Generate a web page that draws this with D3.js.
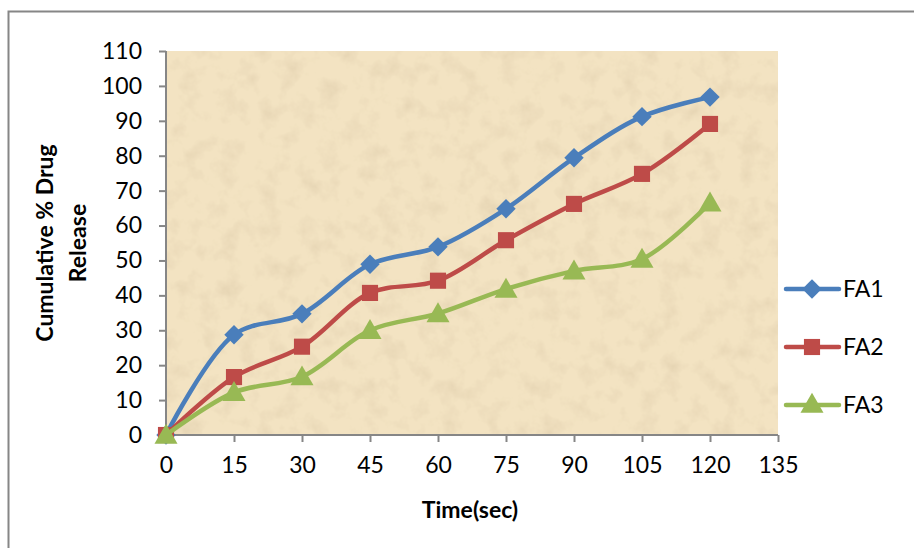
<!DOCTYPE html>
<html>
<head>
<meta charset="utf-8">
<script src="https://cdn.jsdelivr.net/npm/d3@7"></script>
<style>
  body { margin: 0; background: #fff; }
  svg { font-family: Lato, "Open Sans", sans-serif; }
</style>
</head>
<body>
<svg width="914" height="548"></svg>
<script>
// data
const times = [0, 15, 30, 45, 60, 75, 90, 105, 120];
const fa1 = [0, 28.7, 34.7, 48.9, 53.9, 64.8, 79.4, 91.2, 96.8];
const fa2 = [0, 16.6, 25.3, 40.7, 44.2, 55.8, 66.2, 74.8, 89.1];
const fa3 = [0, 12.2, 16.7, 30.0, 34.8, 41.8, 47.0, 50.4, 66.5];
const seriesNames = ["FA1", "FA2", "FA3"];
const xTicks = [0, 15, 30, 45, 60, 75, 90, 105, 120, 135];
const yTicks = [0, 10, 20, 30, 40, 50, 60, 70, 80, 90, 100, 110];

const colors = ["#4a7ebb", "#be4b48", "#98b954"];
const shapes = [d3.symbolDiamond2, d3.symbolSquare, d3.symbolTriangle];

const svg = d3.select("svg");
const margin = { left: 166, top: 51, right: 778, bottom: 435 };

const x = d3.scaleLinear().domain([0, 135]).range([margin.left, margin.right]);
const y = d3.scaleLinear().domain([0, 110]).range([margin.bottom, margin.top]);

// outer chart border (right/bottom fall off the picture)
svg.append("rect")
  .attr("x", 8.5).attr("y", 11.5)
  .attr("width", 1000).attr("height", 1000)
  .attr("fill", "none").attr("stroke", "#868686").attr("stroke-width", 2);

// parchment-ish texture
const defs = svg.append("defs");
const filt = defs.append("filter").attr("id", "paper")
  .attr("x", 0).attr("y", 0).attr("width", "100%").attr("height", "100%");
filt.append("feTurbulence").attr("type", "fractalNoise")
  .attr("baseFrequency", "0.05").attr("numOctaves", 4).attr("seed", 3).attr("result", "noise");
filt.append("feColorMatrix").attr("in", "noise").attr("type", "matrix")
  .attr("values", "0 0 0 0 0.6  0 0 0 0 0.48  0 0 0 0 0.3  0 0 0 -0.7 0.38")
  .attr("result", "tint");
filt.append("feComposite").attr("in", "tint").attr("in2", "SourceGraphic").attr("operator", "atop");

svg.append("rect")
  .attr("x", margin.left).attr("y", margin.top)
  .attr("width", margin.right - margin.left).attr("height", margin.bottom - margin.top)
  .attr("fill", "#f3e3c2")
  .attr("filter", "url(#paper)");

// axes
const yAxis = svg.append("g")
  .attr("transform", `translate(${margin.left},0)`)
  .call(d3.axisLeft(y).tickValues(yTicks).tickSize(7).tickPadding(17));
const xAxis = svg.append("g")
  .attr("transform", `translate(0,${margin.bottom})`)
  .call(d3.axisBottom(x).tickValues(xTicks).tickSize(7).tickPadding(15));

[xAxis, yAxis].forEach(g => {
  g.select(".domain").attr("stroke", "#868686").attr("stroke-width", 2);
  g.selectAll(".tick line").attr("stroke", "#868686").attr("stroke-width", 2);
  g.selectAll(".tick text").attr("fill", "#000").attr("font-size", 23)
    .attr("font-family", "Lato, 'Open Sans', sans-serif");
});
yAxis.select(".domain").attr("d", `M0,${margin.top}V${margin.bottom}`);
xAxis.select(".domain").attr("d", `M${margin.left},0H${margin.right}`);

// axis titles
svg.append("text")
  .attr("x", 470).attr("y", 518)
  .attr("text-anchor", "middle")
  .attr("font-size", 23).attr("font-weight", "bold")
  .text("Time(sec)");

const yTitle = svg.append("text")
  .attr("transform", "translate(53,243) rotate(-90)")
  .attr("text-anchor", "middle")
  .attr("font-size", 23).attr("font-weight", "bold");
yTitle.append("tspan").attr("x", 0).attr("dy", 0).text("Cumulative % Drug");
yTitle.append("tspan").attr("x", 0).attr("dy", 33).text("Release");

// series
const allSeries = [fa1, fa2, fa3];
const line = d3.line()
  .x((d, i) => x(times[i]))
  .y(d => y(d))
  .curve(d3.curveCatmullRom.alpha(0.5));

const symbolSize = [240, 260, 230];

allSeries.forEach((vals, s) => {
  svg.append("path")
    .datum(vals)
    .attr("d", line)
    .attr("fill", "none")
    .attr("stroke", colors[s])
    .attr("stroke-width", 4.5)
    .attr("stroke-linejoin", "round");

  svg.selectAll(null)
    .data(vals)
    .enter().append("path")
    .attr("transform", (d, i) => `translate(${x(times[i])},${y(d) + (s === 2 ? 2 : 0)})`)
    .attr("d", d3.symbol().type(shapes[s]).size(symbolSize[s]))
    .attr("fill", colors[s]);
});

// legend
const legendY = [289, 347, 405];
const lg = svg.append("g");
seriesNames.forEach((name, s) => {
  lg.append("line")
    .attr("x1", 786).attr("x2", 839)
    .attr("y1", legendY[s]).attr("y2", legendY[s])
    .attr("stroke", colors[s]).attr("stroke-width", 4.5)
    .attr("stroke-linecap", "round");
  lg.append("path")
    .attr("transform", `translate(812,${legendY[s] + (s === 2 ? 1 : 0)})`)
    .attr("d", d3.symbol().type(shapes[s]).size(symbolSize[s]))
    .attr("fill", colors[s]);
  lg.append("text")
    .attr("x", 843).attr("y", legendY[s])
    .attr("dy", "0.35em")
    .attr("font-size", 23)
    .text(name);
});
</script>
</body>
</html>
